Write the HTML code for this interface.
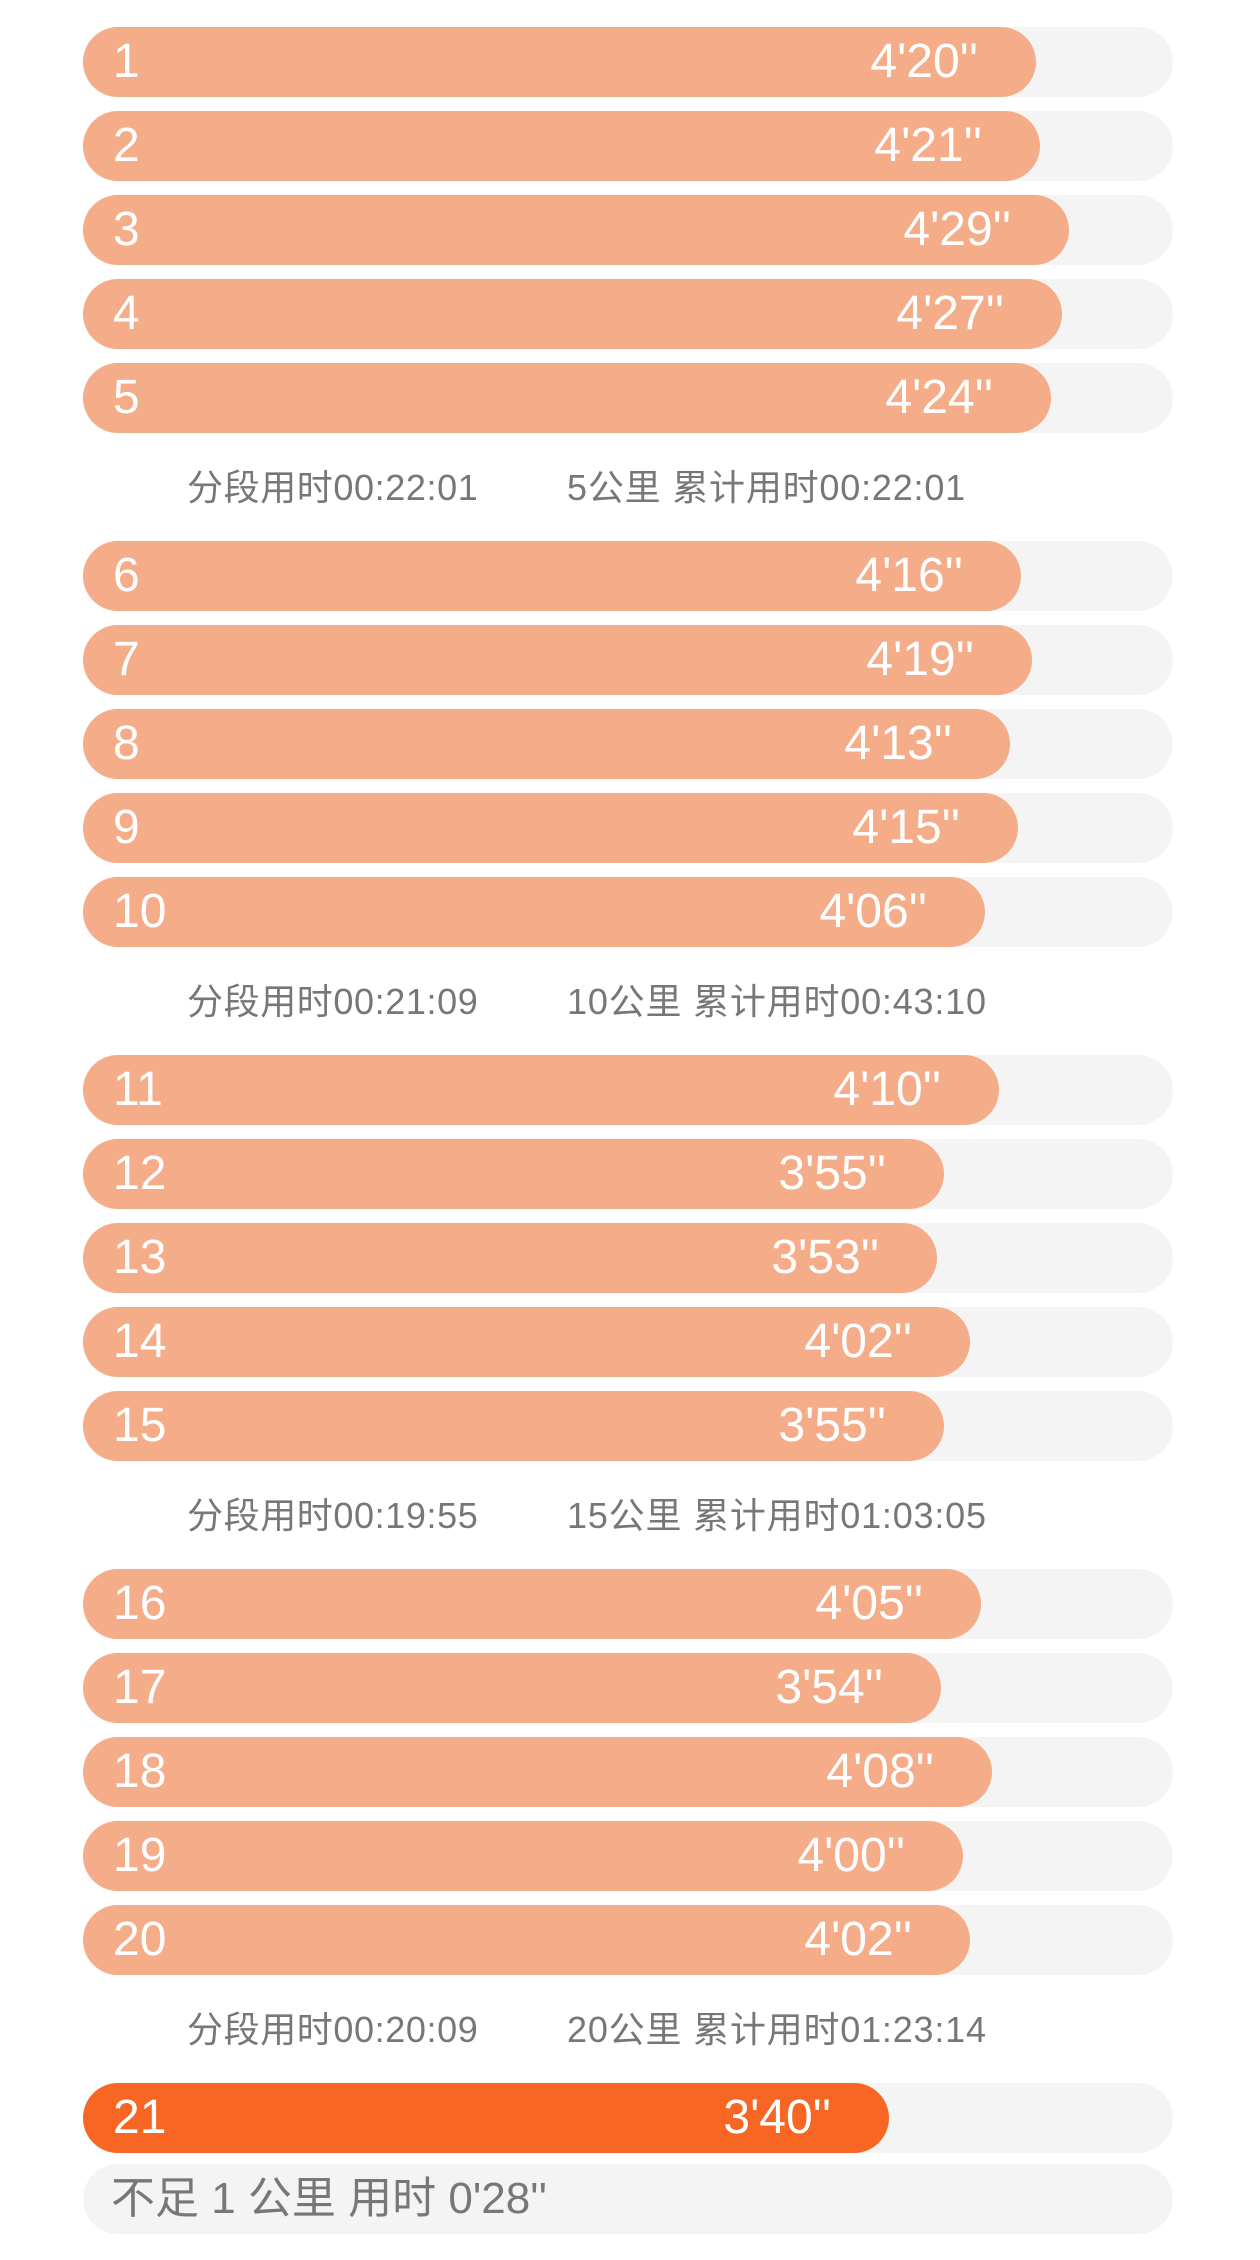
<!DOCTYPE html>
<html><head><meta charset="utf-8"><style>
*{margin:0;padding:0;box-sizing:border-box}
body{width:1260px;height:2260px;background:#fff;position:relative;overflow:hidden;font-family:"Liberation Sans","Noto Sans CJK SC",sans-serif}
.track{position:absolute;left:83px;width:1090px;height:70px;border-radius:35px;background:#f4f4f4}
.bar{position:absolute;left:0;top:0;height:70px;border-radius:35px;background:#f5ac88}
.n{position:absolute;left:30px;top:0;line-height:70px;color:#fff;font-size:48px}
.t{position:absolute;right:58px;top:0;line-height:70px;color:#fff;font-size:48px}
.lab{position:absolute;line-height:40px;font-size:36px;color:#777;white-space:nowrap}
</style></head><body>
<div id="c"></div>
<script>
const times=["4'20","4'21","4'29","4'27","4'24","4'16","4'19","4'13","4'15","4'06","4'10","3'55","3'53","4'02","3'55","4'05","3'54","4'08","4'00","4'02"];
const labs=[["00:22:01","5","00:22:01"],["00:21:09","10","00:43:10"],["00:19:55","15","01:03:05"],["00:20:09","20","01:23:14"]];
let h="";
function sec(t){const[m,s]=t.split("'");return +m*60+ +s}
times.forEach((t,i)=>{const s=Math.floor(i/5),k=i%5;const top=27+s*514+k*84;const w=Math.round(sec(t)*3.665);
h+=`<div class="track" style="top:${top}px"><div class="bar" style="width:${w}px"><span class="n">${i+1}</span><span class="t">${t}''</span></div></div>`;});
labs.forEach((l,s)=>{const y=468+s*514;h+=`<div class="lab" style="left:187px;top:${y}px;letter-spacing:0.6px">分段用时${l[0]}</div><div class="lab" style="left:567px;top:${y}px;letter-spacing:0.8px">${l[1]}公里 累计用时${l[2]}</div>`;});
h+=`<div class="track" style="top:2083px"><div class="bar" style="width:806px;background:#f76622"><span class="n">21</span><span class="t">3'40''</span></div></div>`;
h+=`<div class="track" style="top:2164px"><span class="n" style="color:#777;font-size:44px;left:28px">不足 1 公里 用时 0'28''</span></div>`;
document.getElementById("c").innerHTML=h;
</script>
</body></html>
